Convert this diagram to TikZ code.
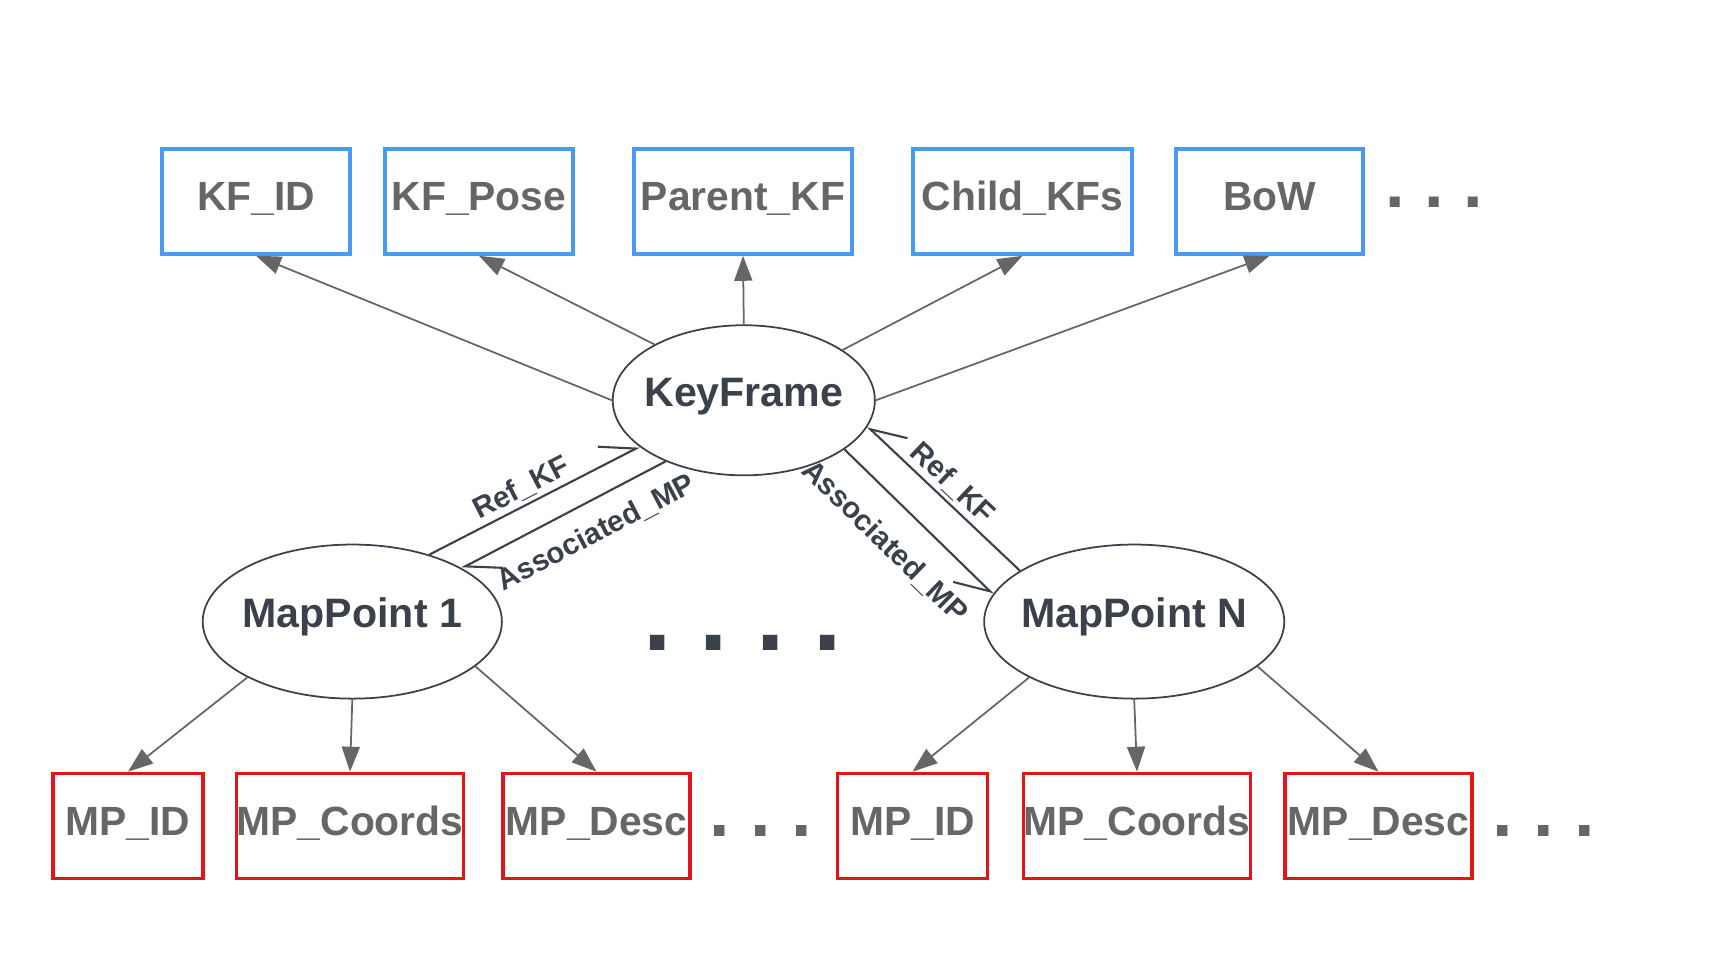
\documentclass[tikz,border=0pt]{standalone}
\usepackage{fontspec}
\setmainfont{Liberation Sans}
\usepackage{xcolor}
\usetikzlibrary{shapes.geometric, arrows.meta}
\definecolor{kfblue}{HTML}{4A9AF4}
\definecolor{mpred}{HTML}{E3151B}
\definecolor{fieldgrey}{HTML}{666666}
\definecolor{objdark}{HTML}{3A414A}
\frenchspacing
\tikzset{
  field/.style={draw, line width=1pt, minimum height=1.05cm, inner sep=0pt,
    text height=0.72em, text depth=0.2em,
    text=fieldgrey, font=\fontsize{11.6}{14}\selectfont\bfseries},
  kffield/.style={field, draw=kfblue},
  mpfield/.style={field, draw=mpred},
  obj/.style={ellipse, draw=objdark, line width=0.5pt, inner xsep=-2pt,
    text height=0.72em, text depth=0.36em,
    text=objdark, font=\fontsize{11.7}{14}\selectfont\bfseries},
  has/.style={draw=fieldgrey, line width=0.5pt, -{Triangle[length=0.25cm, width=0.18cm]}},
  link/.style={draw=objdark, line width=0.6pt},
  linkL/.style={link, -{Straight Barb[left, length=0.33cm, width=0.38cm]}},
  linkR/.style={link, -{Straight Barb[right, length=0.33cm, width=0.38cm]}},
  linklabel/.style={text=objdark, inner sep=1pt, sloped,
    font=\fontsize{8.4}{10}\selectfont\bfseries},
  dots/.style={text=fieldgrey, inner sep=0pt, font=\fontsize{20}{20}\selectfont\bfseries}
}
\begin{document}
\begin{tikzpicture}[x=0.01cm, y=-0.01cm]
\useasboundingbox (0,0) rectangle (1710,971);
% objects
\node[obj, minimum width=2.62cm, minimum height=1.5cm] (kf) at (743.8,400.3) {KeyFrame};
\node[obj, minimum width=2.99cm, minimum height=1.54cm] (mp1) at (352.3,621.6) {MapPoint 1};
\node[obj, minimum width=2.99cm, minimum height=1.54cm] (mpN) at (1134.2,621.6) {MapPoint N};
% fields
\foreach \n/\x/\w/\t in {kfid/256/188/KF\_ID, kfpose/479/188/KF\_Pose,
    parentkf/743/218/Parent\_KF, childkfs/1022.5/219/Child\_KFs, bow/1269.5/187/BoW}
  \node[kffield, minimum width=\w*0.01cm] (\n) at (\x,201.5) {\t};
\foreach \m/\a/\b/\c in {1/128/350/596.5, N/912.5/1137/1378.5} {
  \node[mpfield, minimum width=1.50cm] (mpid\m) at (\a,826) {MP\_ID};
  \node[mpfield, minimum width=2.23cm] (mpco\m) at (\b,826) {MP\_Coords};
  \node[mpfield, minimum width=1.87cm] (mpde\m) at (\c,826) {MP\_Desc};
}
\node[dots] (moreKF) at (1434,202) {. . .};
\node[dots, font=\fontsize{21}{21}\selectfont\bfseries] (moreMP1) at (761,831) {. . .};
\node[dots, font=\fontsize{21}{21}\selectfont\bfseries] (moreMPN) at (1543.5,831) {. . .};
\node[dots, text=objdark, font=\fontsize{29}{29}\selectfont\bfseries] (moreMP) at (742.5,643) {. . . .};
% edges
\foreach \a/\b in {180/kfid, 148/kfpose, 90/parentkf, 27/childkfs, 0/bow}
  \draw[has] (kf.\a) -- (\b.south);
\foreach \m in {1,N} {
  \draw[has] (mp\m.208) -- (mpid\m.north);
  \draw[has] (mp\m.south) -- (mpco\m.north);
  \draw[has] (mp\m.340) -- (mpde\m.north);
}
\draw[linkL] (mp1.41) -- node[linklabel, pos=0.475, above] {Ref\_KF} (kf.204);
\draw[linkL] (kf.218) -- node[linklabel, pos=0.41, below=4pt] {Associated\_MP} (mp1.26);
\draw[linkR] (mpN.156) -- node[linklabel, pos=0.52, above] {Ref\_KF} (kf.348);
\draw[linkR] (kf.334) -- node[linklabel, pos=0.45, below=6pt] {Associated\_MP} (mpN.169);
\end{tikzpicture}
\end{document}
